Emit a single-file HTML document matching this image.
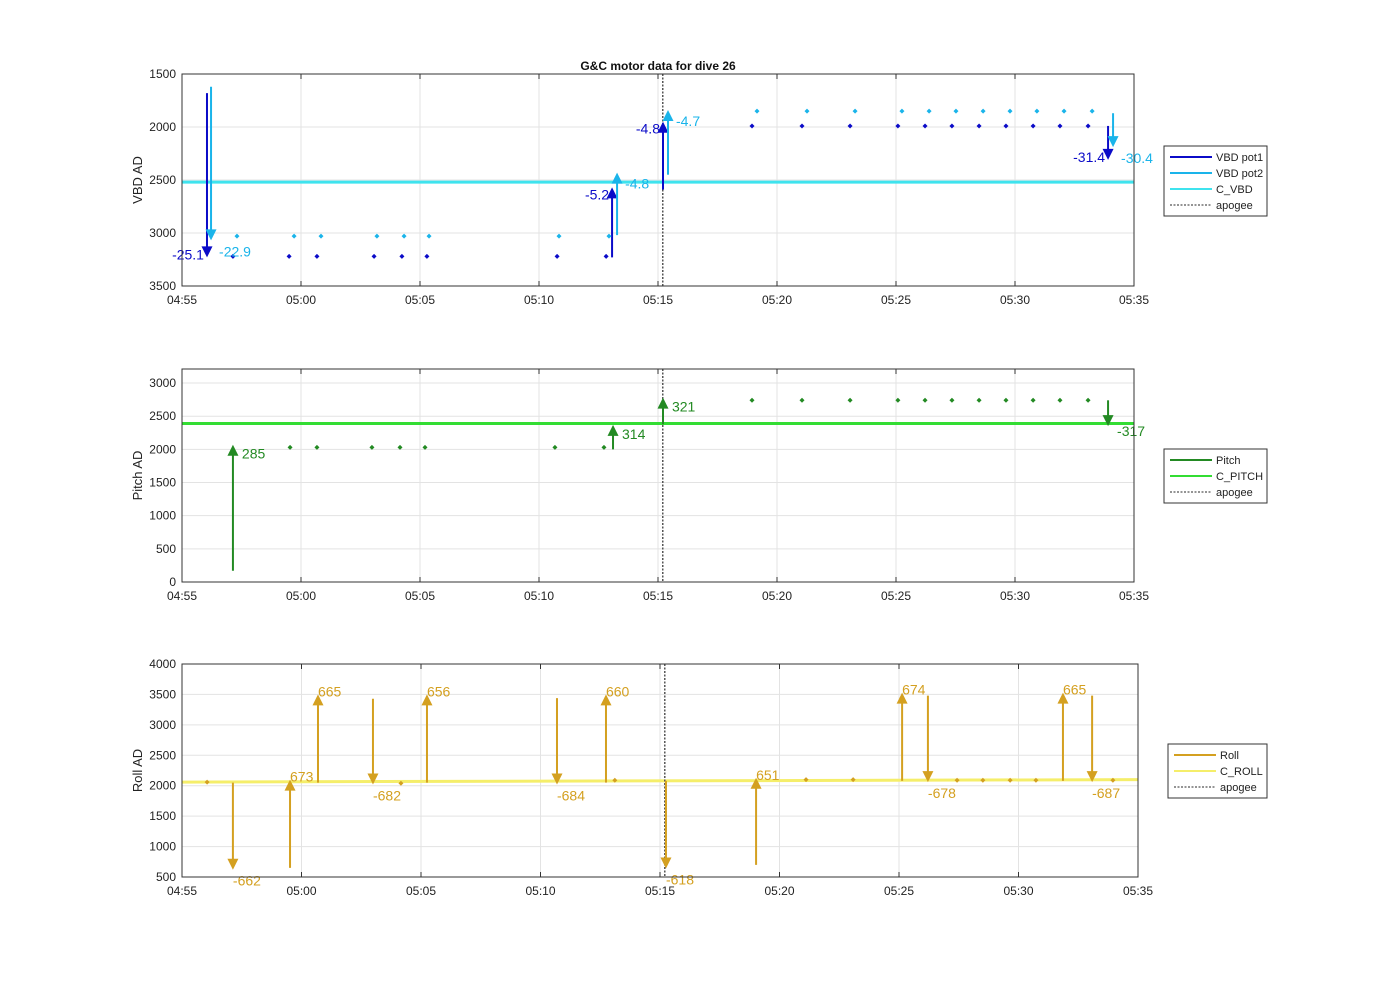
<!DOCTYPE html>
<html><head><meta charset="utf-8"><style>
body{margin:0;background:#fff;}
svg{display:block;font-family:"Liberation Sans",Arial,sans-serif;}
</style></head><body>
<svg id="c" width="1400" height="986"></svg>
<script>
// ---- VBD panel data (minutes after 04:55) ----
const vbdPot1DotT=[2.14,4.50,5.67,8.07,9.24,10.29,15.76,17.82,23.95,26.05,28.07,30.08,31.22,32.35,33.49,34.62,35.76,36.89,38.07];
const vbdPot1DotV=[3220,3220,3220,3220,3220,3220,3220,3220,1990,1990,1990,1990,1990,1990,1990,1990,1990,1990,1990];
const vbdPot2DotT=[2.31,4.71,5.84,8.19,9.33,10.38,15.84,17.94,24.16,26.26,28.28,30.25,31.39,32.52,33.66,34.79,35.92,37.06,38.24];
const vbdPot2DotV=[3030,3030,3030,3030,3030,3030,3030,3030,1850,1850,1850,1850,1850,1850,1850,1850,1850,1850,1850];
const vbdPot1ArrT=[1.05,18.07,20.21,38.91];
const vbdPot1ArrFrom=[1680,3230,2590,1990];
const vbdPot1ArrTo=[3230,2570,1950,2310];
const vbdPot1Labels=["-25.1","-5.2","-4.8","-31.4"];
const vbdPot2ArrT=[1.22,18.28,20.42,39.12];
const vbdPot2ArrFrom=[1620,3020,2450,1870];
const vbdPot2ArrTo=[3070,2430,1840,2190];
const vbdPot2Labels=["-22.9","-4.8","-4.7","-30.4"];
const cVBD=2520;
const apogeeT=20.2;
// ---- Pitch panel data ----
const pitchDotT=[4.54,5.67,7.98,9.16,10.21,15.67,17.73,23.95,26.05,28.07,30.08,31.22,32.35,33.49,34.62,35.76,36.89,38.07];
const pitchDotV=[2030,2030,2030,2030,2030,2030,2030,2740,2740,2740,2740,2740,2740,2740,2740,2740,2740,2740];
const pitchArrT=[2.14,18.11,20.21,38.91];
const pitchArrFrom=[170,2000,2380,2740];
const pitchArrTo=[2070,2370,2780,2350];
const pitchLabels=["285","314","321","-317"];
const cPitch=2390;
// ---- Roll panel data ----
const rollDotT=[1.05,9.16,18.11,26.11,28.08,32.43,33.51,34.65,35.73,38.95];
const rollDotV=[2060,2040,2090,2100,2100,2090,2090,2090,2090,2090];
const rollArrT=[2.13,4.52,5.69,7.99,10.25,15.69,17.74,20.25,24.02,30.13,31.21,36.86,38.08];
const rollArrFrom=[2050,650,2050,3430,2050,3440,2050,2080,700,2080,3480,2080,3480];
const rollArrTo=[620,2100,3500,2020,3500,2020,3500,640,2130,3530,2060,3530,2060];
const rollLabels=["-662","673","665","-682","656","-684","660","-618","651","674","-678","665","-687"];
const cRollStart=2060, cRollEnd=2100;
const xTickLabels=["04:55","05:00","05:05","05:10","05:15","05:20","05:25","05:30","05:35"];
const vbdTicks=[1500,2000,2500,3000,3500];
const pitchTicks=[0,500,1000,1500,2000,2500,3000];
const rollTicks=[500,1000,1500,2000,2500,3000,3500,4000];

const NS="http://www.w3.org/2000/svg";
const svg=document.getElementById('c');
function mk(tag,attrs,parent,name,inter){const e=document.createElementNS(NS,tag);for(const k in attrs)e.setAttribute(k,attrs[k]);


(parent||svg).appendChild(e);return e;}

function panel(p){
  const g=mk('g',{},svg,p.name,false);
  const xs=t=>p.x0+(t/40)*(p.x1-p.x0);
  const ys=v=>p.yTop+(v-p.vTop)/(p.vBot-p.vTop)*(p.yBot-p.yTop);
  mk('rect',{x:p.x0,y:p.yTop,width:p.x1-p.x0,height:p.yBot-p.yTop,fill:'#fff'},g,'plot-area',false);
  for(let i=0;i<xTickLabels.length;i++){const x=xs(i*5);
    mk('line',{x1:x,x2:x,y1:p.yTop,y2:p.yBot,stroke:'#e3e3e3','stroke-width':1},g,'x-grid-line',false);
    mk('line',{x1:x,x2:x,y1:p.yBot,y2:p.yBot-5,stroke:'#333'},g,'x-tick',false);
    mk('line',{x1:x,x2:x,y1:p.yTop,y2:p.yTop+5,stroke:'#333'},g,'x-tick',false);
    const t=mk('text',{x:x,y:p.yBot+18,'text-anchor':'middle','font-size':12,fill:'#222'},g,'x-tick-label',false);t.textContent=xTickLabels[i];}
  p.ticks.forEach(v=>{const y=ys(v);
    mk('line',{x1:p.x0,x2:p.x1,y1:y,y2:y,stroke:'#e3e3e3'},g,'y-grid-line',false);
    const t=mk('text',{x:p.x0-6,y:y+4,'text-anchor':'end','font-size':12,fill:'#222'},g,'y-tick-label',false);t.textContent=v;});
  const yl=mk('text',{x:0,y:0,'text-anchor':'middle','font-size':13,fill:'#222',transform:`translate(${p.x0-40},${(p.yTop+p.yBot)/2}) rotate(-90)`},g,'y-axis-title',false);yl.textContent=p.ylabel;
  mk('line',{x1:p.x0,x2:p.x1,y1:ys(p.cStart),y2:ys(p.cEnd),stroke:p.cColor,'stroke-width':3},g,'constant-line',false);
  const ax=xs(apogeeT);
  mk('line',{x1:ax,x2:ax,y1:p.yTop,y2:p.yBot,stroke:'#555','stroke-width':1.5,'stroke-dasharray':'2,1.5'},g,'apogee-line',false);
  p.series.forEach(s=>{
    s.dotT.forEach((t,i)=>{const x=xs(t),y=ys(s.dotV[i]);
      mk('path',{d:`M${x-2.5},${y}L${x},${y-2.5}L${x+2.5},${y}L${x},${y+2.5}Z`,fill:s.color},g,'data-point',false);});
    s.arrT.forEach((t,i)=>{const x=xs(t),y0=ys(s.from[i]),y1=ys(s.to[i]);const dir=y1>y0?1:-1;
      mk('line',{x1:x,x2:x,y1:y0,y2:y1-dir*9,stroke:s.color,'stroke-width':2},g,'motor-move-arrow',false);
      mk('path',{d:`M${x-5.5},${y1-dir*11}L${x+5.5},${y1-dir*11}L${x},${y1}Z`,fill:s.color},g,'arrow-head',false);
      let lx,ly,anc;
      if(s.labelSide==='left'){lx=x-3;ly=y1+(dir>0?2:12);anc='end';}
      else if(s.labelSide==='right'){lx=x+8;ly=y1+16;anc='start';}
      else if(s.labelSide==='pitch'){lx=x+9;ly=dir>0?y1+10:y1+14;anc='start';}
      else {lx=x;ly=dir>0?y1+16:y1+2;anc='start';}
      const tx=mk('text',{x:lx,y:ly,'text-anchor':anc,'font-size':14,fill:s.color},g,'arrow-value-label',false);tx.textContent=s.labels[i];});
  });
  mk('rect',{x:p.x0,y:p.yTop,width:p.x1-p.x0,height:p.yBot-p.yTop,fill:'none',stroke:'#333','stroke-width':1},g,'plot-frame',false);
  const L=p.legend;const lg=mk('g',{},g,'legend',false);
  mk('rect',{x:L.x,y:L.y,width:L.w,height:L.items.length*16+6,fill:'#fff',stroke:'#333'},lg,'legend-box',false);
  L.items.forEach((it,i)=>{const y=L.y+11+i*16;
    const a={x1:L.x+6,x2:L.x+48,y1:y,y2:y,stroke:it.c,'stroke-width':it.dash?1.2:2};if(it.dash)a['stroke-dasharray']='2,1.5';
    mk('line',a,lg,'legend-swatch',false);
    const t=mk('text',{x:L.x+52,y:y+4,'font-size':11,fill:'#222'},lg,'legend-entry',false);t.textContent=it.t;});
}

const title=mk('text',{x:658,y:70,'text-anchor':'middle','font-size':12,'font-weight':'bold',fill:'#111'},svg,'chart-title',false);
title.textContent='G&C motor data for dive 26';

panel({name:'vbd-panel',x0:182,x1:1134,yTop:74,yBot:286,vTop:1500,vBot:3500,ticks:vbdTicks,ylabel:'VBD AD',
 cStart:cVBD,cEnd:cVBD,cColor:'#3fe3ee',
 series:[{color:'#0b0bc8',dotT:vbdPot1DotT,dotV:vbdPot1DotV,arrT:vbdPot1ArrT,from:vbdPot1ArrFrom,to:vbdPot1ArrTo,labels:vbdPot1Labels,labelSide:'left'},
   {color:'#1ab4ea',dotT:vbdPot2DotT,dotV:vbdPot2DotV,arrT:vbdPot2ArrT,from:vbdPot2ArrFrom,to:vbdPot2ArrTo,labels:vbdPot2Labels,labelSide:'right'}],
 legend:{x:1164,y:146,w:103,items:[{t:'VBD pot1',c:'#0b0bc8'},{t:'VBD pot2',c:'#1ab4ea'},{t:'C_VBD',c:'#3fe3ee'},{t:'apogee',c:'#555',dash:1}]}});
panel({name:'pitch-panel',x0:182,x1:1134,yTop:369,yBot:582,vTop:3212,vBot:0,ticks:pitchTicks,ylabel:'Pitch AD',
 cStart:cPitch,cEnd:cPitch,cColor:'#33dd33',
 series:[{color:'#238a23',dotT:pitchDotT,dotV:pitchDotV,arrT:pitchArrT,from:pitchArrFrom,to:pitchArrTo,labels:pitchLabels,labelSide:'pitch'}],
 legend:{x:1164,y:449,w:103,items:[{t:'Pitch',c:'#238a23'},{t:'C_PITCH',c:'#33dd33'},{t:'apogee',c:'#555',dash:1}]}});
panel({name:'roll-panel',x0:182,x1:1138,yTop:664,yBot:877,vTop:4000,vBot:500,ticks:rollTicks,ylabel:'Roll AD',
 cStart:cRollStart,cEnd:cRollEnd,cColor:'#f5ee6a',
 series:[{color:'#d4a020',dotT:rollDotT,dotV:rollDotV,arrT:rollArrT,from:rollArrFrom,to:rollArrTo,labels:rollLabels,labelSide:'roll'}],
 legend:{x:1168,y:744,w:99,items:[{t:'Roll',c:'#d4a020'},{t:'C_ROLL',c:'#f5ee6a'},{t:'apogee',c:'#555',dash:1}]}});
</script>
</body></html>
